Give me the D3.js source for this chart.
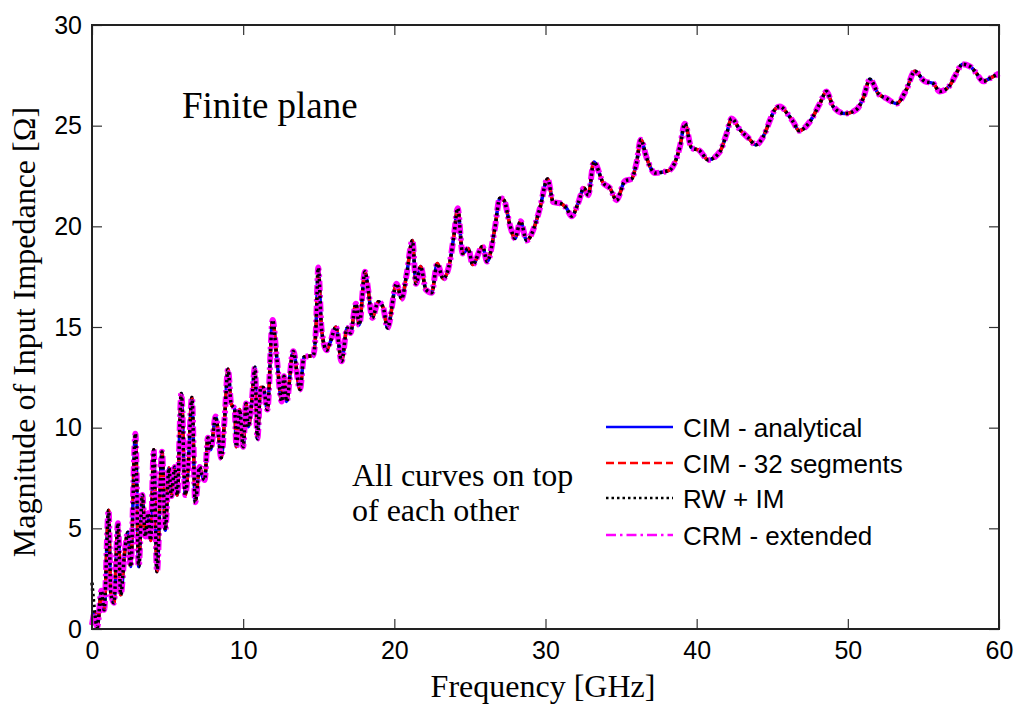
<!DOCTYPE html>
<html>
<head>
<meta charset="utf-8">
<script src="https://cdn.jsdelivr.net/npm/d3@7"></script>
<style>
  body { margin: 0; background: #fff; }
  .tick text { font-family: "Liberation Sans", Arial, sans-serif; font-size: 25px; fill: #000; }
  .axisLabel { font-family: "Liberation Serif", "Times New Roman", serif; font-size: 32px; fill: #000; }
  .note { font-family: "Liberation Serif", "Times New Roman", serif; fill: #000; }
  .legendText { font-family: "Liberation Sans", Arial, sans-serif; font-size: 26px; fill: #000; }
</style>
</head>
<body>
<svg id="chart" width="1016" height="704"></svg>
<script>
//////////////////// DATA ////////////////////
// frequency samples [GHz]
const freqGHz = [
  0, 0.18, 0.35, 0.62, 0.8, 1.1, 1.24, 1.45, 1.72, 1.9, 2.16, 2.38, 2.56, 2.87, 3.09, 3.33, 3.53, 3.7, 3.88,
  4.08, 4.3, 4.63, 4.85, 5.09, 5.25, 5.47, 5.64, 5.91, 6.17, 6.35, 6.61, 6.83, 7.12, 7.27, 7.45, 7.67, 7.85,
  8.18, 8.33, 8.55, 8.78, 9.0, 9.2, 9.44, 9.55, 9.77, 10.0, 10.19, 10.34, 10.56, 10.78, 10.94, 11.16, 11.33,
  11.6, 11.95, 12.22, 12.55, 12.7, 12.87, 13.31, 13.76, 14.02, 14.64, 14.81, 14.97, 15.19, 15.52, 15.74,
  16.14, 16.51, 16.88, 17.1, 17.46, 17.68, 18.06, 18.27, 18.54, 18.94, 19.27, 19.55, 20.15, 20.48, 20.81,
  21.2, 21.43, 21.74, 22.09, 22.47, 22.84, 23.23, 23.68, 23.96, 24.19, 24.52, 24.89, 25.18, 25.84, 26.14,
  26.65, 26.98, 27.25, 27.65, 27.98, 28.35, 28.75, 29.3, 29.63, 30.14, 30.51, 30.95, 31.39, 31.73, 32.16,
  32.54, 32.83, 33.2, 33.82, 34.26, 34.7, 35.25, 35.69, 36.02, 36.31, 36.69, 37.24, 37.78, 38.23, 38.89,
  39.22, 39.66, 40.21, 40.76, 41.53, 41.98, 42.31, 42.86, 43.41, 43.92, 44.4, 44.95, 45.17, 45.5, 46.05,
  46.38, 46.78, 47.49, 48.15, 48.59, 49.03, 49.8, 50.57, 51.01, 51.46, 52.0, 52.56, 53.22, 53.88, 54.43,
  55.09, 55.64, 56.08, 56.75, 57.08, 57.59, 58.07, 58.51, 58.95, 59.39, 60
];

// magnitude of input impedance [Ohm], all four methods agree
const impedance = [
  0.2, 0.8, 0.1, 1.9, 0.95, 5.9, 1.8, 1.3, 5.25, 1.7, 3.8, 4.8, 3.1, 9.7, 3.1, 6.65, 4.6, 5.75, 4.4,
  8.9, 2.85, 8.8, 4.9, 8.0, 6.6, 8.05, 6.65, 11.7, 6.65, 7.9, 11.5, 6.3, 8.05, 7.65, 7.4, 9.5, 8.9,
  10.55, 9.9, 8.5, 10.55, 12.9, 11.2, 10.9, 9.05, 10.9, 9.05, 11.2, 10.05, 11.2, 13.0, 9.45, 12.0, 12.0,
  10.9, 15.35, 13.5, 11.3, 12.55, 11.3, 13.8, 11.9, 13.5, 13.6, 14.85, 17.95, 14.85, 13.85, 14.2,
  15.0, 13.3, 14.95, 14.7, 16.15, 15.1, 17.75, 16.85, 15.45, 16.25, 15.95, 14.95, 17.15, 16.4, 17.6,
  19.3, 17.15, 18.0, 16.85, 16.7, 18.15, 17.4, 18.25, 19.65, 20.9, 18.65, 18.9, 18.1, 19.0, 18.25,
  19.9, 21.4, 21.3, 20.05, 19.4, 20.25, 19.3, 20.05, 20.9, 22.35, 21.2, 21.15, 20.9, 20.5, 21.15,
  21.9, 21.55, 23.2, 22.15, 21.9, 21.3, 22.25, 22.35, 23.15, 24.3, 23.4, 22.65, 22.7, 22.8, 23.95,
  25.1, 23.9, 23.75, 23.3, 23.7, 24.6, 25.35, 24.8, 24.4, 24.05, 24.45, 25.45, 25.8, 25.95, 25.55,
  25.2, 24.75, 25.2, 26.1, 26.7, 25.95, 25.6, 25.8, 26.35, 27.3, 26.6, 26.35, 26.1, 26.8, 27.7,
  27.2, 27.1, 26.7, 27.0, 27.45, 28.05, 27.95, 27.6, 27.2, 27.35, 27.6
];

// the RW + IM result starts higher at dc
const rwStartValue = 2.3;

const seriesNames = ["CIM - analytical", "CIM - 32 segments", "RW + IM", "CRM - extended"];
const seriesColors = ["#0000ff", "#ff0000", "#000000", "#ff00ff"];
const seriesDashes = ["none", "8,4", "2.5,3", "10,4,2.5,4"];

const xTicks = [0, 10, 20, 30, 40, 50, 60];
const yTicks = [0, 5, 10, 15, 20, 25, 30];

//////////////////// SIZES ////////////////////
const svg = d3.select("#chart");
const plot = { left: 92, right: 999, top: 25, bottom: 629 };

//////////////////// SCALES ////////////////////
const xScale = d3.scaleLinear().domain([0, 60]).range([plot.left, plot.right]);
const yScale = d3.scaleLinear().domain([0, 30]).range([plot.bottom, plot.top]);

//////////////////// CURVES ////////////////////
const makeData = (i) => freqGHz.map((f, k) => ({
    f: f,
    z: (i === 2 && k === 0) ? rwStartValue : impedance[k]
}));

const line = d3.line()
    .x(d => xScale(d.f))
    .y(d => yScale(d.z))
    .curve(d3.curveMonotoneX);

const curveGroup = svg.append("g");

// blue and red under the wide magenta, black dots on top
[0, 1, 3, 2].forEach(i => {
    curveGroup.append("path")
        .datum(makeData(i))
        .attr("d", line)
        .attr("fill", "none")
        .attr("stroke", seriesColors[i])
        .attr("stroke-width", i === 3 ? 6 : 3.5)
        .attr("stroke-dasharray", seriesDashes[i])
        .attr("stroke-linejoin", "round");
});

//////////////////// AXES ////////////////////
const tickLen = 10;

const xAxisBottom = svg.append("g")
    .attr("transform", `translate(0, ${plot.bottom})`)
    .call(d3.axisBottom(xScale).tickValues(xTicks).tickSizeInner(-tickLen).tickSizeOuter(0).tickPadding(12));
const xAxisTop = svg.append("g")
    .attr("transform", `translate(0, ${plot.top})`)
    .call(d3.axisTop(xScale).tickValues(xTicks).tickSizeInner(-tickLen).tickSizeOuter(0).tickFormat(""));
const yAxisLeft = svg.append("g")
    .attr("transform", `translate(${plot.left}, 0)`)
    .call(d3.axisLeft(yScale).tickValues(yTicks).tickSizeInner(-tickLen).tickSizeOuter(0).tickPadding(10));
const yAxisRight = svg.append("g")
    .attr("transform", `translate(${plot.right}, 0)`)
    .call(d3.axisRight(yScale).tickValues(yTicks).tickSizeInner(-tickLen).tickSizeOuter(0).tickFormat(""));

[xAxisBottom, xAxisTop, yAxisLeft, yAxisRight].forEach(g => {
    g.select(".domain").remove();
    g.selectAll(".tick line").attr("stroke", "#333").attr("stroke-width", 1.2);
});

// frame
svg.append("rect")
    .attr("x", plot.left)
    .attr("y", plot.top)
    .attr("width", plot.right - plot.left)
    .attr("height", plot.bottom - plot.top)
    .attr("fill", "none")
    .attr("stroke", "#222")
    .attr("stroke-width", 2);

//////////////////// LABELS ////////////////////
svg.append("text")
    .attr("class", "axisLabel")
    .attr("x", 543)
    .attr("y", 697)
    .attr("text-anchor", "middle")
    .text("Frequency [GHz]");

svg.append("text")
    .attr("class", "axisLabel")
    .attr("transform", "translate(35, 332) rotate(-90)")
    .attr("text-anchor", "middle")
    .text("Magnitude of Input Impedance [Ω]");

svg.append("text")
    .attr("class", "note")
    .attr("x", 182)
    .attr("y", 118)
    .attr("font-size", 37)
    .text("Finite plane");

svg.append("text")
    .attr("class", "note")
    .attr("x", 352)
    .attr("y", 486)
    .attr("font-size", 32)
    .text("All curves on top");

svg.append("text")
    .attr("class", "note")
    .attr("x", 352)
    .attr("y", 521)
    .attr("font-size", 32)
    .text("of each other");

//////////////////// LEGEND ////////////////////
const legendRows = [427, 463, 498, 535];
const legend = svg.append("g");

seriesNames.forEach((name, i) => {
    legend.append("line")
        .attr("x1", 606)
        .attr("x2", 673)
        .attr("y1", legendRows[i])
        .attr("y2", legendRows[i])
        .attr("stroke", seriesColors[i])
        .attr("stroke-width", 2.5)
        .attr("stroke-dasharray", seriesDashes[i]);
    legend.append("text")
        .attr("class", "legendText")
        .attr("x", 683)
        .attr("y", legendRows[i] + 10)
        .text(name);
});
</script>
</body>
</html>
